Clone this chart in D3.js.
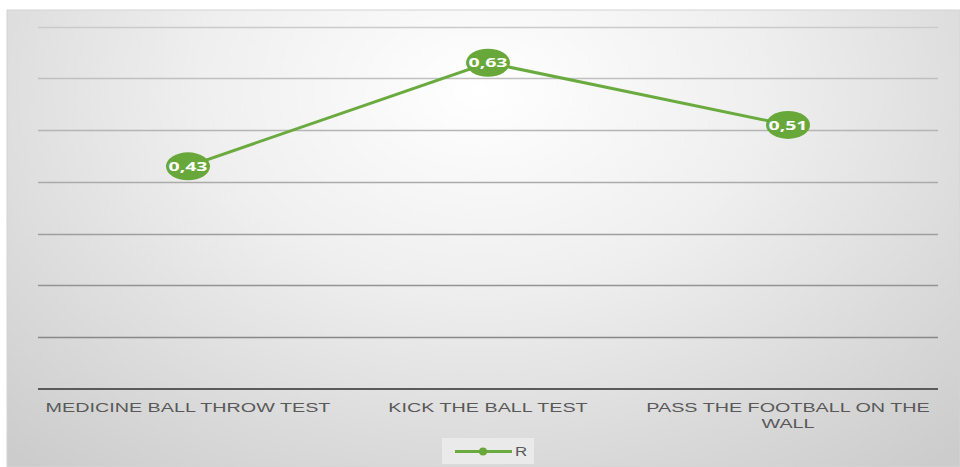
<!DOCTYPE html>
<html><head><meta charset="utf-8">
<script src="https://cdn.jsdelivr.net/npm/d3@7"></script>
<style>html,body{margin:0;padding:0;background:#fff;}svg{display:block;}</style>
</head><body>
<script>
const categories = ["MEDICINE BALL THROW TEST", "KICK THE BALL TEST", "PASS THE FOOTBALL ON THE WALL"];
const values = [0.43, 0.63, 0.51];
const seriesName = "R";
const yTicks = [0, 0.1, 0.2, 0.3, 0.4, 0.5, 0.6, 0.7];

const W = 960, H = 467;
const FONT = "'Liberation Sans', Arial, sans-serif";
const LFS = 13.5;
const svg = d3.select("body").append("svg").attr("width", W).attr("height", H);
const defs = svg.append("defs");
const grad = defs.append("radialGradient").attr("id", "bg")
  .attr("gradientUnits", "userSpaceOnUse")
  .attr("cx", 480).attr("cy", 90).attr("r", 700)
  .attr("gradientTransform", "translate(480,90) scale(1,0.7) translate(-480,-90)");
grad.append("stop").attr("offset", "0%").attr("stop-color", "#ffffff");
grad.append("stop").attr("offset", "40%").attr("stop-color", "#efefef");
grad.append("stop").attr("offset", "75%").attr("stop-color", "#dadada");
grad.append("stop").attr("offset", "100%").attr("stop-color", "#cccccc");

svg.append("rect").attr("x", 7).attr("y", 10).attr("width", W - 7).attr("height", H - 10)
  .attr("fill", "url(#bg)").attr("stroke", "#d4d4d4").attr("stroke-width", 1);

const plot = {left: 38, right: 938, top: 26.5, bottom: 389};
const x = d3.scaleBand().domain(categories).range([plot.left, plot.right]);
const y = d3.scaleLinear().domain([0, 0.7]).range([plot.bottom, plot.top]);

// horizontal stretch so labels match the reference's wide lettering
const meas = svg.append("text").style("font-family", FONT).style("font-size", LFS + "px");
meas.text(categories[0]);
const SX = 285 / meas.node().getComputedTextLength();

// gridlines
const gridC = d3.scaleLinear().domain([0.7, 0.1]).range(["#cbcbcb", "#888888"]);
svg.append("g").selectAll("line").data(yTicks.slice(1)).join("line")
  .attr("x1", plot.left).attr("x2", plot.right)
  .attr("y1", d => Math.round(y(d)) + 0.5).attr("y2", d => Math.round(y(d)) + 0.5)
  .attr("stroke", d => gridC(d)).attr("stroke-width", 1.3);

// baseline axis
const xAxis = svg.append("g").attr("transform", `translate(0,${plot.bottom})`)
  .call(d3.axisBottom(x).tickSize(0).tickPadding(0));
xAxis.select(".domain").attr("stroke", "#5a5a5a").attr("stroke-width", 2.2).attr("d", `M${plot.left},0H${plot.right}`);
xAxis.selectAll(".tick text").remove();

// category labels (wrapped, stretched)
const maxW = 295;
xAxis.selectAll(".tick").each(function(d) {
  const g = d3.select(this).append("g").attr("transform", `scale(${SX},1)`);
  const words = d.split(" ");
  let lines = [], cur = "";
  words.forEach(w => {
    const test = cur ? cur + " " + w : w;
    meas.text(test);
    if (meas.node().getComputedTextLength() * SX > maxW && cur) { lines.push(cur); cur = w; }
    else cur = test;
  });
  lines.push(cur);
  lines.forEach((l, i) => g.append("text").attr("fill", "#595959").attr("text-anchor", "middle")
    .style("font-family", FONT).style("font-size", LFS + "px")
    .attr("x", 0).attr("y", 23 + i * 16).text(l));
});
meas.remove();

// line
const line = d3.line().x((d, i) => x(categories[i]) + x.bandwidth() / 2).y(d => y(d));
svg.append("path").datum(values).attr("d", line).attr("fill", "none")
  .attr("stroke", "#6aaa3f").attr("stroke-width", 3);

// markers + labels
const pts = svg.append("g").selectAll("g").data(values).join("g")
  .attr("transform", (d, i) => `translate(${x(categories[i]) + x.bandwidth() / 2},${y(d)})`);
pts.append("ellipse").attr("rx", 22).attr("ry", 14).attr("fill", "#68a83b");
pts.append("text").attr("text-anchor", "middle").attr("dy", "0.36em")
  .attr("transform", "scale(1.5,1)")
  .attr("fill", "#ffffff").style("font-family", "'Open Sans', sans-serif")
  .style("font-size", "13px").style("font-weight", "bold")
  .text(d => d3.format(".2f")(d).replace(".", ","));

// legend
const lg = svg.append("g");
lg.append("rect").attr("x", 442).attr("y", 438).attr("width", 92).attr("height", 26)
  .attr("fill", "#ececec").attr("opacity", 0.85);
lg.append("line").attr("x1", 455).attr("x2", 512).attr("y1", 451.5).attr("y2", 451.5)
  .attr("stroke", "#6aaa3f").attr("stroke-width", 3);
lg.append("circle").attr("cx", 483).attr("cy", 451.5).attr("r", 4).attr("fill", "#68a83b");
lg.append("g").attr("transform", "translate(515,456) scale(1.3,1)")
  .append("text").attr("fill", "#595959")
  .style("font-family", FONT).style("font-size", "13px").text(seriesName);
</script>
</body></html>
